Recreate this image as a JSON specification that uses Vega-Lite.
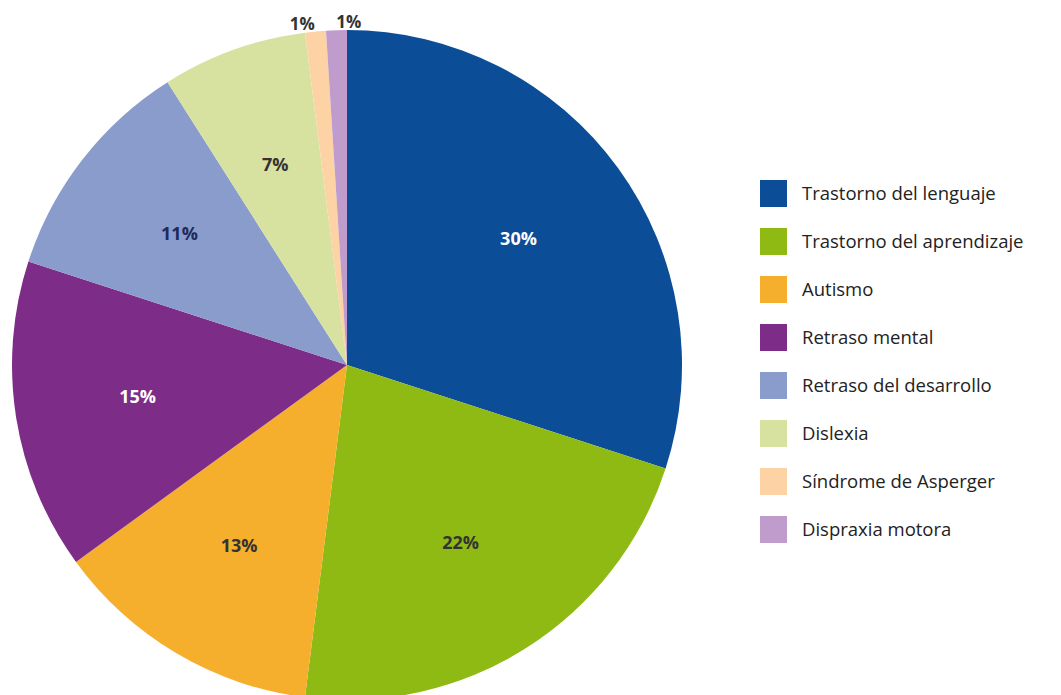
{
  "$schema": "https://vega.github.io/schema/vega-lite/v6.json",
  "width": 694,
  "height": 730,
  "padding": 0,
  "background": "white",
  "view": {"stroke": null},
  "data": {"values": [
    {"categoria": "Trastorno del lenguaje", "valor": 30, "etiqueta": "30%", "orden": 1},
    {"categoria": "Trastorno del aprendizaje", "valor": 22, "etiqueta": "22%", "orden": 2},
    {"categoria": "Autismo", "valor": 13, "etiqueta": "13%", "orden": 3},
    {"categoria": "Retraso mental", "valor": 15, "etiqueta": "15%", "orden": 4},
    {"categoria": "Retraso del desarrollo", "valor": 11, "etiqueta": "11%", "orden": 5},
    {"categoria": "Dislexia", "valor": 7, "etiqueta": "7%", "orden": 6},
    {"categoria": "Síndrome de Asperger", "valor": 1, "etiqueta": "1%", "orden": 7},
    {"categoria": "Dispraxia motora", "valor": 1, "etiqueta": "1%", "orden": 8}
  ]},
  "encoding": {
    "theta": {"field": "valor", "type": "quantitative", "stack": true},
    "order": {"field": "orden", "type": "quantitative"}
  },
  "layer": [
    {
      "mark": {"type": "arc", "outerRadius": 335},
      "encoding": {
        "color": {
          "field": "categoria",
          "type": "nominal",
          "sort": ["Trastorno del lenguaje", "Trastorno del aprendizaje", "Autismo", "Retraso mental", "Retraso del desarrollo", "Dislexia", "Síndrome de Asperger", "Dispraxia motora"],
          "scale": {
            "domain": ["Trastorno del lenguaje", "Trastorno del aprendizaje", "Autismo", "Retraso mental", "Retraso del desarrollo", "Dislexia", "Síndrome de Asperger", "Dispraxia motora"],
            "range": ["#0b4d96", "#8fba13", "#f6ae2d", "#7d2d87", "#8a9ccc", "#d8e2a0", "#fdd3a5", "#c09ccc"]
          },
          "legend": {
            "title": null,
            "orient": "none",
            "legendX": 760,
            "legendY": 180,
            "symbolType": "square",
            "symbolSize": 729,
            "symbolStrokeWidth": 0,
            "labelFont": "Open Sans",
            "labelFontSize": 18.5,
            "labelColor": "#222222",
            "labelOffset": 15,
            "rowPadding": 21,
            "labelLimit": 300
          }
        }
      }
    },
    {
      "transform": [{"filter": "datum.valor > 2"}],
      "mark": {"type": "text", "radius": 212, "font": "Open Sans", "fontWeight": "bold", "fontSize": 18},
      "encoding": {
        "text": {"field": "etiqueta", "type": "nominal"},
        "color": {
          "condition": [
            {"test": "datum.categoria === 'Trastorno del lenguaje' || datum.categoria === 'Retraso mental'", "value": "white"},
            {"test": "datum.categoria === 'Retraso del desarrollo'", "value": "#1b2b5a"}
          ],
          "value": "#333333"
        }
      }
    },
    {
      "mark": {"type": "text", "radius": 342, "align": "right", "font": "Open Sans", "fontWeight": "bold", "fontSize": 17, "color": "#333333"},
      "encoding": {
        "text": {"condition": {"test": "datum.categoria === 'Síndrome de Asperger'", "field": "etiqueta"}, "value": ""}
      }
    },
    {
      "mark": {"type": "text", "radius": 342, "align": "left", "font": "Open Sans", "fontWeight": "bold", "fontSize": 17, "color": "#333333"},
      "encoding": {
        "text": {"condition": {"test": "datum.categoria === 'Dispraxia motora'", "field": "etiqueta"}, "value": ""}
      }
    }
  ]
}
